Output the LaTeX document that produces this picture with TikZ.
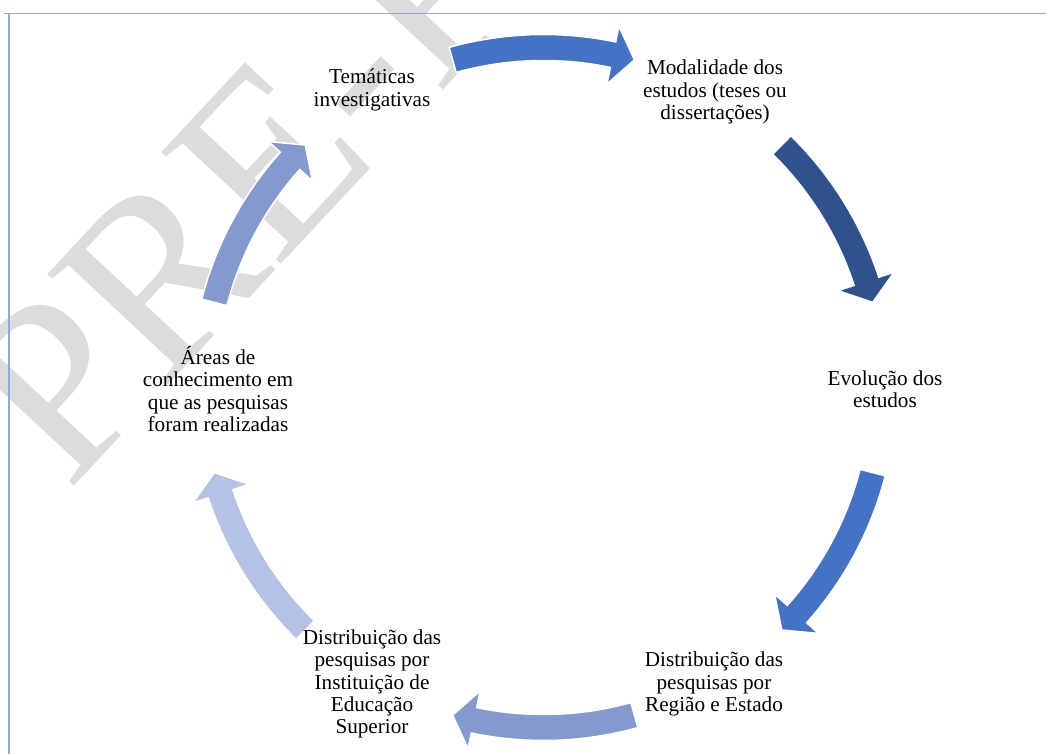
\documentclass[tikz,border=0pt]{standalone}
\usepackage{fontspec}
\setmainfont{Liberation Serif}

\definecolor{blueA}{RGB}{68,114,196}
\definecolor{blueB}{RGB}{47,82,143}
\definecolor{blueC}{RGB}{131,153,207}
\definecolor{blueD}{RGB}{180,194,227}
\definecolor{edgeblue}{RGB}{142,170,219}
\definecolor{markgray}{RGB}{220,220,220}

\begin{document}
\begin{tikzpicture}[
    x = 1pt, y = 1pt,
    stage/.style = {align = center,
      inner sep = 0pt,
      font = \fontsize{21.2}{22.3}\selectfont},
    bend/.style = {fill = #1,
      draw = white,
      line width = 1.5pt},
    pageline/.style = {draw = edgeblue, line width = 1.3pt}
    ]

    \useasboundingbox (0, 0) rectangle (1046, 754);

    % watermark
    \begin{scope}
      \clip (0, 0) rectangle (1046, 754);
      \node at (68, 261) [rotate = 47, anchor = base west, inner sep = 0pt,
        text = markgray, font = \fontsize{250}{250}\selectfont, name = wm] {PRE-PRINT};
    \end{scope}

    \draw [pageline] (4, 740.7) -- (1046, 740.7);
    \draw [pageline] (9, 740.7) -- (9, 0);

    % block arrows round the cycle
    \coordinate (c) at (543.5, 366.5);
    \begin{scope}[shift = {(c)}]
      \foreach \a/\col in {90/blueA, 30/blueB, -30/blueA, -90/blueC, -150/blueD, 150/blueC}
      \filldraw [bend = \col] (\a + 15.5 : 353)
        arc [start angle = \a + 15.5, end angle = \a - 11.8, radius = 353]
        -- (\a - 11.8 : 369) -- (\a - 15.5 : 340) -- (\a - 11.8 : 310)
        -- (\a - 11.8 : 327)
        arc [start angle = \a - 11.8, end angle = \a + 15.5, radius = 327] -- cycle;
    \end{scope}

    \node at (372, 664) [stage, name = tem] {Temáticas\\investigativas};
    \node at (715, 662) [stage, name = mod] {Modalidade dos\\estudos (teses ou\\dissertações)};
    \node at (885, 365) [stage, name = evo] {Evolução dos\\estudos};
    \node at (714, 70) [stage, name = reg] {Distribuição das\\pesquisas por\\Região e Estado};
    \node at (372, 70) [stage, name = ies] {Distribuição das\\pesquisas por\\Instituição de\\Educação\\Superior};
    \node at (218, 365) [stage, name = areas] {Áreas de\\conhecimento em\\que as pesquisas\\foram realizadas};
  \end{tikzpicture}
\end{document}
